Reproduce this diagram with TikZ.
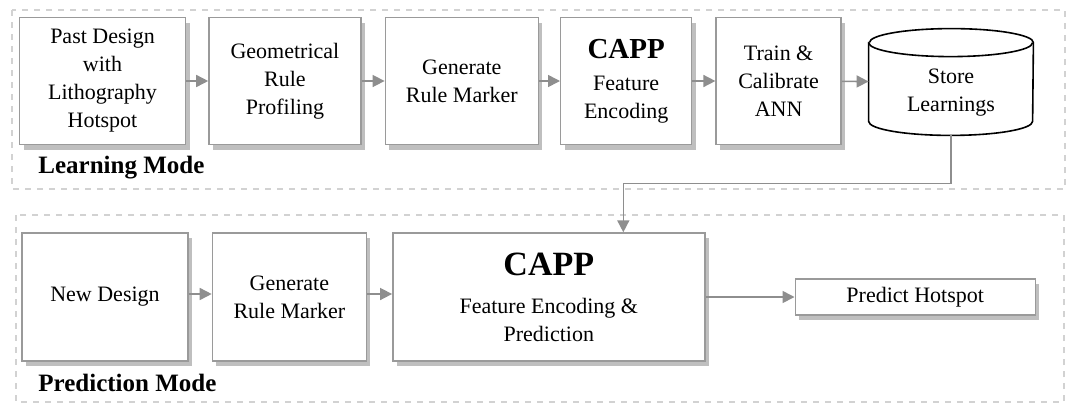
\documentclass[tikz,border=0pt]{standalone}
\usepackage{fontspec}
\setmainfont{Liberation Serif}
\usepackage{xcolor}
\usetikzlibrary{arrows.meta,positioning,shadows}
\definecolor{boxgray}{HTML}{9A9A9A}
\definecolor{arrgray}{HTML}{8E8E8E}
\definecolor{framegray}{HTML}{D2D2D2}

\begin{document}
\begin{tikzpicture}[
  x=1pt,y=1pt,
  node distance=11pt,
  box/.style={draw=boxgray,fill=white,line width=0.7pt,minimum height=63.5pt,align=center,inner sep=2pt,
    font=\fontsize{11}{14}\selectfont,
    drop shadow={shadow xshift=2pt,shadow yshift=-2.5pt,fill=black,opacity=0.25}},
  store/.style={minimum width=82pt,minimum height=53pt,inner sep=0pt},
  cyl/.style={draw=black,fill=white,line width=0.8pt},
  frame/.style={draw=framegray,dashed,line width=0.6pt},
  modelabel/.style={anchor=west,inner sep=0pt,font=\bfseries\fontsize{12.5}{14}\selectfont},
  arr/.style={-{Triangle[length=6pt,width=6pt]},draw=arrgray,line width=0.8pt}
]
\useasboundingbox (0,0) rectangle (539.5,-206.5);
\draw[frame] (6,-5) rectangle (532.5,-94.5);
\draw[frame] (8,-107.5) rectangle (532,-201);

\node[box,minimum width=83pt] (past) at (51.25,-40.5) {Past Design\\with\\Lithography\\Hotspot};
\node[box,minimum width=76pt,right=of past] (profile) {Geometrical\\Rule\\Profiling};
\node[box,minimum width=76.5pt,right=11.5pt of profile] (marker) {Generate\\Rule Marker};
\node[box,minimum width=65.5pt,right=10.5pt of marker] (encode) {{\bfseries\fontsize{14.5}{16}\selectfont CAPP}\\[2pt]Feature\\Encoding};
\node[box,minimum width=62.5pt,right=11.5pt of encode] (train) {Train \&\\Calibrate\\ANN};
\node[store] (learn) at (475.5,-41) {};
\draw[cyl] ([yshift=-7pt]learn.north west) -- ([yshift=7pt]learn.south west)
  arc[x radius=41pt,y radius=7pt,start angle=180,end angle=360]
  -- ([yshift=-7pt]learn.north east)
  arc[x radius=41pt,y radius=7pt,start angle=0,end angle=180] -- cycle;
\draw[cyl] ([yshift=-7pt]learn.north west) arc[x radius=41pt,y radius=7pt,start angle=180,end angle=360];
\node[align=center,font=\fontsize{11}{14}\selectfont] (learntext) at ([yshift=-5.5pt]learn.center) {Store\\Learnings};
\node[modelabel] (learnmode) at (19,-84) {Learning Mode};
\draw[arr] (past) -- (profile);
\draw[arr] (profile) -- (marker);
\draw[arr] (marker) -- (encode);
\draw[arr] (encode) -- (train);
\draw[arr] (train) -- (learn);

\node[box,minimum width=83pt,minimum height=64pt] (newdesign) at (52.5,-148.5) {New Design};
\node[box,minimum width=77pt,minimum height=64pt,right=11.5pt of newdesign] (newmarker) {Generate\\Rule Marker};
\node[box,minimum width=156pt,minimum height=64pt,right=12.5pt of newmarker] (predict) {{\bfseries\fontsize{17}{20}\selectfont CAPP}\\[5pt]Feature Encoding \&\\Prediction};
\node[box,minimum width=120pt,minimum height=18pt,right=44.5pt of predict] (hotspot) {Predict Hotspot};
\node[modelabel] (predictmode) at (19,-191.5) {Prediction Mode};
\draw[arr] ([yshift=1.5pt]newdesign.east) -- ([yshift=1.5pt]newmarker.west);
\draw[arr] ([yshift=1.5pt]newmarker.east) -- ([yshift=1.5pt]predict.west);
\draw[arr] (predict) -- (hotspot);
\draw[arr] (learn.south) -- ++(0,-24) -| ([xshift=37.25pt]predict.north);
\end{tikzpicture}
\end{document}
